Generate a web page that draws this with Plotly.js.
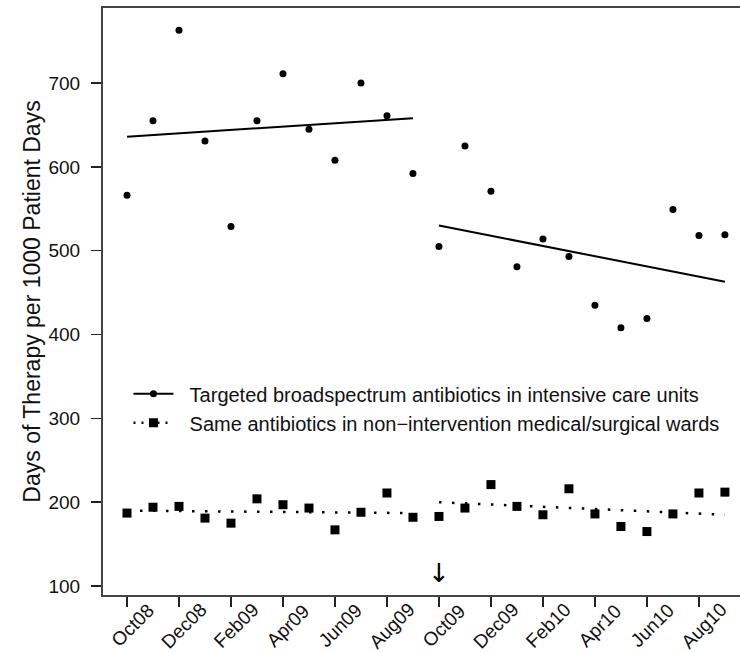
<!DOCTYPE html>
<html>
<head>
<meta charset="utf-8">
<script src="https://cdn.plot.ly/plotly-3.0.1.min.js"></script>
<style>html,body{margin:0;padding:0;background:#fff;}#chart{width:740px;height:652px;}</style>
</head>
<body>
<div id="chart"></div>
<script>
// Months Oct08 .. Sep10 (index 0..23)
const monthIndex = [0,1,2,3,4,5,6,7,8,9,10,11,12,13,14,15,16,17,18,19,20,21,22,23];
const tickIdx = [0,2,4,6,8,10,12,14,16,18,20,22];
const tickLabels = ["Oct08","Dec08","Feb09","Apr09","Jun09","Aug09","Oct09","Dec09","Feb10","Apr10","Jun10","Aug10"];

// Targeted broadspectrum antibiotics in ICUs
const icuValues = [566,655,763,631,529,655,711,645,608,700,661,592,505,625,571,481,514,493,435,408,419,549,518,519];
// Same antibiotics in non-intervention wards
const wardValues = [187,194,195,181,175,204,197,193,167,188,211,182,183,193,221,195,185,216,186,171,165,186,211,212];

// Segmented regression fits (pre / post intervention)
const icuFitPreX = [0, 11];
const icuFitPreY = [636, 658];
const icuFitPostX = [12, 23];
const icuFitPostY = [530, 463];
const wardFitPreX = [0, 11];
const wardFitPreY = [190, 187];
const wardFitPostX = [12, 23];
const wardFitPostY = [200, 185];

const legendLabels = ["Targeted broadspectrum antibiotics in intensive care units",
                      "Same antibiotics in non\u2212intervention medical/surgical wards"];
const interventionIdx = 12;

const fontFam = "Liberation Sans, Arial, sans-serif";
const dotDash = "2.5px,10.5px";
const pad = "\u00a0\u00a0";

const traces = [
  {x: icuFitPreX, y: icuFitPreY, mode: "lines", line: {color: "#000", width: 2}, showlegend: false, hoverinfo: "skip"},
  {x: icuFitPostX, y: icuFitPostY, mode: "lines", line: {color: "#000", width: 2}, showlegend: false, hoverinfo: "skip"},
  {x: wardFitPreX, y: wardFitPreY, mode: "lines", line: {color: "#000", width: 2.5, dash: dotDash}, showlegend: false, hoverinfo: "skip"},
  {x: wardFitPostX, y: wardFitPostY, mode: "lines", line: {color: "#000", width: 2.5, dash: dotDash}, showlegend: false, hoverinfo: "skip"},
  {x: monthIndex, y: icuValues, mode: "markers", marker: {symbol: "circle", size: 7, color: "#000"}, showlegend: false},
  {x: monthIndex, y: wardValues, mode: "markers", marker: {symbol: "square", size: 9, color: "#000"}, showlegend: false},
  // legend entries
  {x: [null], y: [null], mode: "lines+markers", name: pad + legendLabels[0], line: {color: "#000", width: 2}, marker: {symbol: "circle", size: 7, color: "#000"}},
  {x: [null], y: [null], mode: "lines+markers", name: pad + legendLabels[1], line: {color: "#000", width: 2.5, dash: "2px,6px"}, marker: {symbol: "square", size: 9, color: "#000"}}
];

const annotations = tickIdx.map((v, i) => ({
  x: v, y: 0, xref: "x", yref: "paper", text: tickLabels[i], showarrow: false,
  textangle: -45, xanchor: "center", yanchor: "middle", xshift: 5, yshift: -30,
  font: {family: fontFam, size: 19, color: "#111"}
}));
annotations.push({x: interventionIdx, y: 116, xref: "x", yref: "y", text: "\u2193", showarrow: false,
  font: {family: "DejaVu Sans", size: 26, color: "#000"}});

const layout = {
  width: 740, height: 652,
  margin: {l: 103, r: 0, t: 8, b: 57},
  paper_bgcolor: "#fff", plot_bgcolor: "#fff",
  font: {family: fontFam, size: 18, color: "#111"},
  showlegend: true,
  legend: {x: 0.04, y: 0.376, xanchor: "left", yanchor: "top", bgcolor: "rgba(0,0,0,0)",
           font: {family: fontFam, size: 20, color: "#111"}, itemwidth: 40, tracegroupgap: 0},
  xaxis: {
    range: [-0.923, 23.58], showgrid: false, zeroline: false,
    showline: true, linecolor: "#444", linewidth: 2, mirror: true,
    ticks: "outside", ticklen: 10, tickwidth: 1.5, tickcolor: "#222",
    tickmode: "array", tickvals: tickIdx, showticklabels: false, automargin: false
  },
  yaxis: {
    range: [89.3, 789.5], showgrid: false, zeroline: false,
    showline: true, linecolor: "#444", linewidth: 2,
    ticks: "outside", ticklen: 10, tickwidth: 1.5, tickcolor: "#222",
    tickvals: [100,200,300,400,500,600,700], ticklabelstandoff: 7,
    tickfont: {family: fontFam, size: 19, color: "#111"}, automargin: false,
    title: {text: "Days of Therapy per 1000 Patient Days", font: {family: fontFam, size: 23, color: "#111"}, standoff: 1}
  },
  annotations: annotations
};

Plotly.newPlot("chart", traces, layout, {displayModeBar: false, staticPlot: true});
</script>
</body>
</html>
